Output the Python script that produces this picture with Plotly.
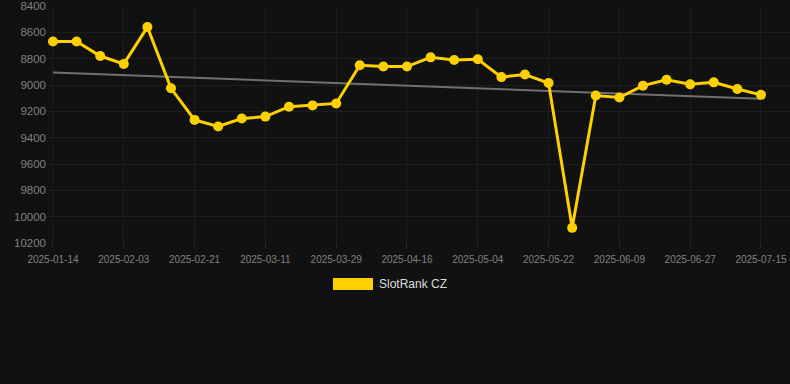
import plotly.graph_objects as go

dates = [
    "2025-01-14", "2025-01-21", "2025-01-27", "2025-02-03", "2025-02-09", "2025-02-15",
    "2025-02-21", "2025-02-27", "2025-03-05", "2025-03-11", "2025-03-17", "2025-03-23",
    "2025-03-29", "2025-04-04", "2025-04-10", "2025-04-16", "2025-04-22", "2025-04-28",
    "2025-05-04", "2025-05-10", "2025-05-16", "2025-05-22", "2025-05-28", "2025-06-03",
    "2025-06-09", "2025-06-15", "2025-06-21", "2025-06-27", "2025-07-03", "2025-07-09",
    "2025-07-15",
]
rank_cz = [
    8670, 8670, 8780, 8840, 8560, 9025,
    9265, 9315, 9255, 9240, 9165, 9155,
    9140, 8850, 8860, 8860, 8790, 8810,
    8805, 8940, 8920, 8985, 10085, 9080,
    9095, 9005, 8960, 8995, 8980, 9030,
    9075,
]
trend_values = [8905, 9105]
tick_labels = ["2025-01-14", "2025-02-03", "2025-02-21", "2025-03-11", "2025-03-29",
               "2025-04-16", "2025-05-04", "2025-05-22", "2025-06-09", "2025-06-27",
               "2025-07-15"]
y_ticks = [8400, 8600, 8800, 9000, 9200, 9400, 9600, 9800, 10000, 10200]
y_tick_text = ["8400", "8600", "8800", "9000", "9200", "9400", "9600", "9800", "10000", "10200"]
series_name = "SlotRank CZ"

YELLOW = "#FFD000"
BG = "#111111"
GRID = "#1e1e1e"
TICK_COLOR = "#808080"
FONT = "Arial, Liberation Sans, sans-serif"

fig = go.Figure()
fig.add_trace(go.Scatter(
    x=[dates[0], dates[-1]], y=trend_values, mode="lines",
    line=dict(color="#707070", width=2), showlegend=False, hoverinfo="skip",
))
fig.add_trace(go.Scatter(
    x=dates, y=rank_cz, mode="lines+markers", name=series_name,
    line=dict(color=YELLOW, width=3),
    marker=dict(color=YELLOW, size=10),
    showlegend=False,
))

fig.update_layout(
    width=790, height=384,
    paper_bgcolor=BG, plot_bgcolor=BG,
    margin=dict(l=47, r=0, t=6, b=141),
    font=dict(family=FONT, color=TICK_COLOR),
    showlegend=False,
    xaxis=dict(
        type="category", categoryorder="array", categoryarray=dates,
        range=[-0.254, 31.23],
        tickmode="array", tickvals=tick_labels, ticktext=tick_labels,
        tickfont=dict(size=10, color=TICK_COLOR),
        showgrid=True, gridcolor=GRID, gridwidth=1,
        ticks="outside", ticklen=4, tickcolor="#2a2a2a",
        ticklabelstandoff=3,
        zeroline=False, showline=False,
    ),
    yaxis=dict(
        range=[10200, 8400],
        tickmode="array", tickvals=y_ticks, ticktext=y_tick_text,
        tickfont=dict(size=11.5, color=TICK_COLOR),
        showgrid=True, gridcolor=GRID, gridwidth=1,
        zeroline=False, showline=False,
    ),
    shapes=[dict(
        type="rect", xref="paper", yref="paper",
        x0=(333 - 47) / 743, x1=(373 - 47) / 743,
        y0=-(290 - 243) / 237, y1=-(278 - 243) / 237,
        fillcolor=YELLOW, line=dict(width=0),
    )],
    annotations=[dict(
        xref="paper", yref="paper",
        x=(377 - 47) / 743, y=-(284 - 243) / 237,
        xanchor="left", yanchor="middle", showarrow=False,
        text=series_name, font=dict(size=12, color="#dddddd", family=FONT),
    )],
)

fig.write_html(
    "out.html",
    config={"displayModeBar": False},
    post_script="document.body.style.margin='0';document.body.style.background='#111111';",
)
